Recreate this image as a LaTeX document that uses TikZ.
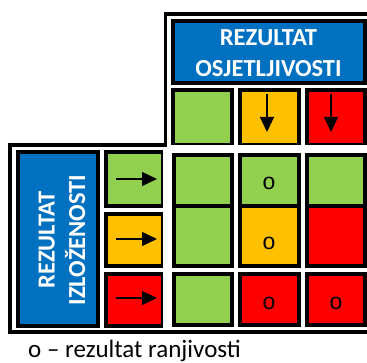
\documentclass[tikz,border=0pt]{standalone}
\usepackage{fontspec}
\setmainfont{Carlito}
\newfontfamily\ofont{Liberation Sans}
\usetikzlibrary{arrows.meta}
\definecolor{cgreen}{HTML}{92D050}
\definecolor{corange}{HTML}{FFC000}
\definecolor{cred}{HTML}{FF0000}
\definecolor{cblue}{HTML}{0070C0}
\newcommand\mkcell[6]{%
  \node[cellbox, fill=#2, minimum width={#5-#3-4}, minimum height={#6-#4-4}]
    (#1) at ({(#3+#5)/2},{(#4+#6)/2}) {};}
\tikzset{
  cellbox/.style={draw=black, line width=4pt, inner sep=0pt, outer sep=0pt},
  arr/.style={line width=1.3pt, -{Triangle[length=15pt,width=14pt]}},
  head/.style={text=white, font=\bfseries\fontsize{24.5}{30.5}\selectfont, align=center, inner sep=0pt},
  olabel/.style={font=\ofont\fontsize{23}{23}\selectfont, inner sep=0pt},
}
\begin{document}
\begin{tikzpicture}[x=1pt,y=-1pt]
\useasboundingbox[fill=white] (0,0) rectangle (367,363);
% frames
\fill[black] (164,12) rectangle (367,16);
\fill[black] (164,12) rectangle (167,147);
\fill[black] (8,143) rectangle (167,147);
\fill[black] (8,143) rectangle (12,334);
\fill[black] (8,330) rectangle (367,334);
% top header and cells
\mkcell{topblue}{cblue}{171}{19}{367}{85}
\mkcell{t1}{cgreen}{171}{88}{234}{147}
\mkcell{t2}{corange}{238}{88}{301}{147}
\mkcell{t3}{cred}{305}{88}{367}{147}
% left header and cells
\mkcell{leftblue}{cblue}{16}{150}{100}{328}
\mkcell{l1}{cgreen}{104}{150}{165}{208}
\mkcell{l2}{corange}{104}{212}{165}{268}
\mkcell{l3}{cred}{104}{272}{165}{328}
% centre grid
\mkcell{g11}{cgreen}{172}{153}{234}{208}
\mkcell{g12}{cgreen}{238}{153}{301}{208}
\mkcell{g13}{cgreen}{305}{153}{367}{208}
\mkcell{g21}{cgreen}{172}{204}{234}{268}
\mkcell{g22}{corange}{238}{204}{301}{268}
\mkcell{g23}{cred}{305}{204}{367}{268}
\mkcell{g31}{cgreen}{172}{272}{234}{327}
\mkcell{g32}{cred}{238}{272}{301}{327}
\mkcell{g33}{cred}{305}{272}{367}{327}
% white bands
\fill[white] (167,145) rectangle (367,153);
\fill[white] (163,148) rectangle (172,328);
% arrows
\coordinate (a1s) at (116,179); \coordinate (a1e) at (157,179);
\coordinate (a2s) at (116,239); \coordinate (a2e) at (157,239);
\coordinate (a3s) at (116,298); \coordinate (a3e) at (157,298);
\coordinate (b2s) at (267,94); \coordinate (b2e) at (267,132);
\coordinate (b3s) at (331,94); \coordinate (b3e) at (331,132);
\draw[arr] (a1s) -- (a1e);
\draw[arr] (a2s) -- (a2e);
\draw[arr] (a3s) -- (a3e);
\draw[arr] (b2s) -- (b2e);
\draw[arr] (b3s) -- (b3e);
% texts
\node[head] (toptext) at (268.5,53) {REZULTAT\\OSJETLJIVOSTI};
\node[head, rotate=90] (lefttext) at (62,240) {REZULTAT\\IZLOŽENOSTI};
\node[olabel] (o1) at (269,183) {o};
\node[olabel] (o2) at (269,243) {o};
\node[olabel] (o3) at (269,303) {o};
\node[olabel] (o4) at (336,303) {o};
\node[anchor=base west, inner sep=0pt, font=\fontsize{25}{25}\selectfont] (caption) at (28,358) {o – rezultat ranjivosti};
\end{tikzpicture}
\end{document}
